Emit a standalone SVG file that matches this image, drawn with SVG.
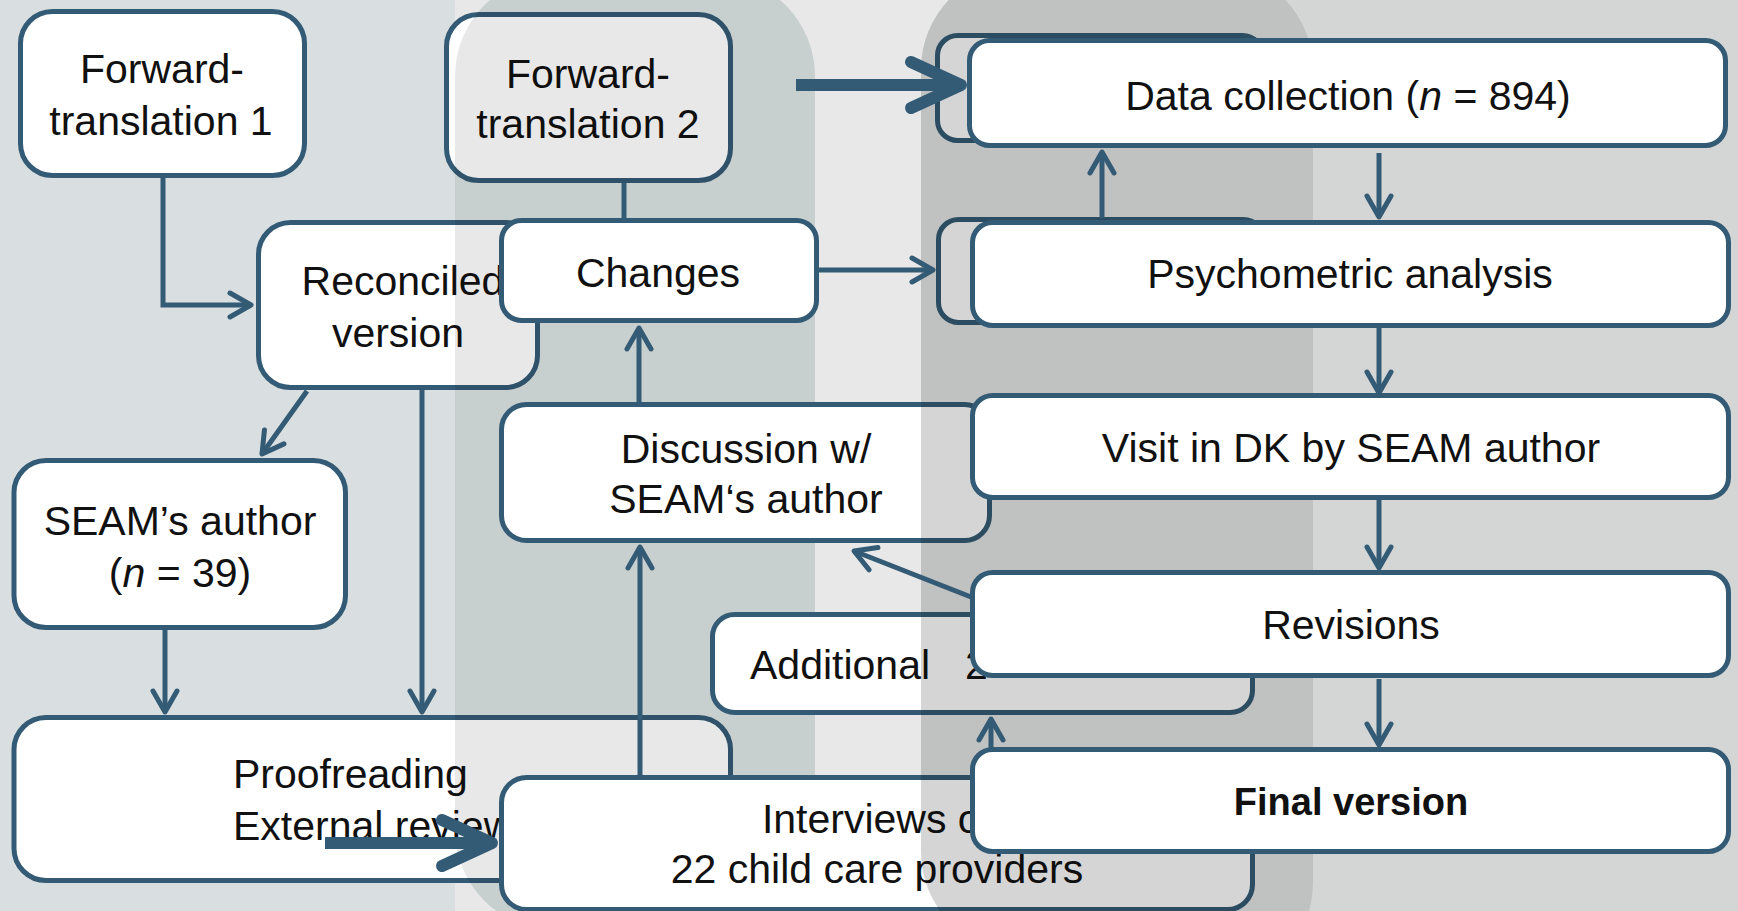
<svg xmlns="http://www.w3.org/2000/svg" width="1738" height="911" viewBox="0 0 1738 911">
<style>
.t{font-family:"Liberation Sans",Arial,sans-serif;font-size:41px;fill:#111;}
.c{text-anchor:middle;}
.b{font-weight:bold;font-size:38px;}
.box{fill:#fff;stroke:#345b75;stroke-width:5;}
.ln{fill:none;stroke:#345b75;stroke-width:5;}
.ah{marker-end:url(#ah);}
.thick{fill:none;stroke:#345b75;stroke-width:12;marker-end:url(#ahT);}
</style>
<defs>
<marker id="ah" viewBox="-28 -18 36 36" markerWidth="36" markerHeight="36" markerUnits="userSpaceOnUse" refX="0" refY="0" orient="auto">
<path d="M-21,-12 L0,0 L-21,12" fill="none" stroke="#345b75" stroke-width="5" stroke-linecap="round" stroke-linejoin="round"/>
</marker>
<marker id="ahT" viewBox="-60 -32 72 64" markerWidth="72" markerHeight="64" markerUnits="userSpaceOnUse" refX="0" refY="0" orient="auto">
<path d="M-50,-23 L0,0 L-50,23" fill="none" stroke="#345b75" stroke-width="12" stroke-linecap="round" stroke-linejoin="round"/>
</marker>
</defs>

<g id="background">
<rect x="0" y="0" width="1738" height="911" fill="#e8e8e8"/>
<rect x="0" y="0" width="455" height="911" fill="#d9dfe0"/>
<rect x="1100" y="0" width="638" height="911" fill="#d4d6d5"/>
<path d="M455,76 A100,100 0 0 1 555,-24 H715 A100,100 0 0 1 815,76 V830 A100,100 0 0 1 715,930 H555 A100,100 0 0 1 455,830 Z" fill="#dce4e4"/>
<path d="M921,69 A100,100 0 0 1 1021,-31 H1213 A100,100 0 0 1 1313,69 V883 A100,100 0 0 1 1213,983 L1021,952 A100,100 0 0 1 921,852 Z" fill="#e6e8e7"/>
</g>

<g id="n-ft1">
<rect class="box" x="20.5" y="11.5" width="284" height="164" rx="32"/>
<text class="t c" x="162" y="83">Forward-</text>
<text class="t c" x="161" y="135">translation 1</text>
</g>
<g id="n-reconciled">
<rect class="box" x="258.5" y="222.5" width="279" height="165" rx="32"/>
<text class="t c" x="403" y="295">Reconciled</text>
<text class="t c" x="398" y="347">version</text>
</g>
<g id="n-seam">
<rect class="box" x="14" y="460.5" width="331.5" height="167" rx="32"/>
<text class="t c" x="180" y="535">SEAM’s author</text>
<text class="t c" x="180" y="587">(<tspan font-style="italic">n</tspan> = 39)</text>
</g>
<g id="n-proofreading">
<rect class="box" x="14" y="717.5" width="716.5" height="163" rx="32"/>
<text class="t" x="233" y="788">Proofreading</text>
<text class="t" x="233" y="840">External review</text>
</g>
<g id="n-ft2">
<rect class="box" x="446.5" y="14.5" width="284" height="166" rx="32"/>
<text class="t c" x="588" y="88">Forward-</text>
<text class="t c" x="588" y="138">translation 2</text>
</g>

<g id="overlay-a">
<path d="M455,76 A100,100 0 0 1 555,-24 H715 A100,100 0 0 1 815,76 V830 A100,100 0 0 1 715,930 H555 A100,100 0 0 1 455,830 Z" fill="#000" fill-opacity="0.09"/>
</g>

<g id="n-changes">
<rect class="box" x="501.5" y="220.5" width="315" height="100" rx="20"/>
<text class="t c" x="658" y="287">Changes</text>
</g>
<g id="n-data-back">
<rect class="box" x="937.5" y="35.5" width="325" height="105" rx="20"/>
</g>
<g id="n-psych-back">
<rect class="box" x="938.5" y="219.5" width="325" height="103" rx="20"/>
</g>
<g id="n-discussion">
<rect class="box" x="501.5" y="404.5" width="488" height="136" rx="25"/>
<text class="t c" x="746" y="463">Discussion w/</text>
<text class="t c" x="746" y="513">SEAM‘s author</text>
</g>
<g id="n-additional">
<rect class="box" x="712.5" y="614.5" width="540" height="98" rx="22"/>
<text class="t" x="750" y="679">Additional<tspan x="965">2</tspan></text>
</g>
<g id="n-interviews">
<rect class="box" x="501.5" y="777.5" width="751" height="132" rx="25"/>
<text class="t c" x="877" y="833">Interviews of</text>
<text class="t c" x="877" y="883">22 child care providers</text>
</g>

<g id="overlay-b">
<path d="M921,69 A100,100 0 0 1 1021,-31 H1213 A100,100 0 0 1 1313,69 V883 A100,100 0 0 1 1213,983 L1021,952 A100,100 0 0 1 921,852 Z" fill="#000" fill-opacity="0.165"/>
</g>

<g id="n-data">
<rect class="box" x="969.5" y="40.5" width="756" height="105" rx="20"/>
<text class="t c" x="1348" y="110">Data collection (<tspan font-style="italic">n</tspan> = 894)</text>
</g>
<g id="n-psych">
<rect class="box" x="972.5" y="222.5" width="756" height="103" rx="20"/>
<text class="t c" x="1350" y="288">Psychometric analysis</text>
</g>
<g id="n-visit">
<rect class="box" x="972.5" y="395.5" width="756" height="102" rx="20"/>
<text class="t c" x="1351" y="462">Visit in DK by SEAM author</text>
</g>
<g id="n-revisions">
<rect class="box" x="972.5" y="572.5" width="756" height="103" rx="20"/>
<text class="t c" x="1351" y="639">Revisions</text>
</g>
<g id="n-final">
<rect class="box" x="972.5" y="749.5" width="756" height="102" rx="20"/>
<text class="t c b" x="1351" y="815">Final version</text>
</g>

<g id="connectors">
<path class="ln ah" d="M163,178 V305 H251"/>
<path class="ln ah" d="M307,391 L262,454"/>
<path class="ln ah" d="M422,388 V712"/>
<path class="ln ah" d="M165,630 V712"/>
<path class="ln" d="M624,183 V219"/>
<path class="ln ah" d="M819,270 H933"/>
<path class="thick" d="M796,85 H961"/>
<path class="ln ah" d="M639,402 V328"/>
<path class="ln ah" d="M640,777 V547"/>
<path class="ln ah" d="M971,597 L854,551"/>
<path class="ln ah" d="M991,749 V719"/>
<path class="ln ah" d="M1102,218 V152"/>
<path class="ln ah" d="M1379,153 V217"/>
<path class="ln ah" d="M1379,328 V393"/>
<path class="ln ah" d="M1379,500 V568"/>
<path class="ln ah" d="M1379,679 V745"/>
<path class="thick" d="M325,843 H492"/>
</g>
</svg>
